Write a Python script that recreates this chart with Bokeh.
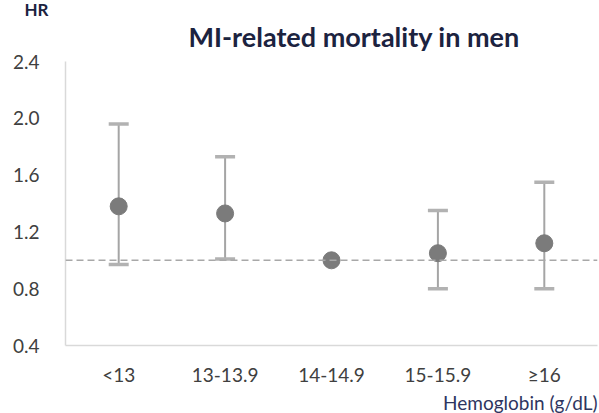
from bokeh.plotting import figure
from bokeh.models import (Range1d, FactorRange, FixedTicker, Title, Span,
                          ColumnDataSource, CustomJSTickFormatter)
from bokeh.embed import file_html
from bokeh.resources import INLINE

# Hazard ratios of MI-related mortality in men by hemoglobin category
categories = ["<13", "13-13.9", "14-14.9", "15-15.9", "≥16"]
hr = [1.38, 1.33, 1.00, 1.05, 1.12]
ci_low = [0.97, 1.01, 1.00, 0.80, 0.80]
ci_high = [1.96, 1.73, 1.00, 1.35, 1.55]
y_ticks = [0.4, 0.8, 1.2, 1.6, 2.0, 2.4]

FONT = "Lato"
GREY_BAR = "#a5a5a5"
GREY_DOT = "#7b7b7b"

p = figure(width=599, height=413, output_backend="svg", toolbar_location=None,
           x_range=FactorRange(*categories, range_padding=0),
           y_range=Range1d(0.4, 2.4),
           min_border_left=65, min_border_right=2,
           min_border_top=61, min_border_bottom=65)
p.outline_line_color = None
p.xgrid.grid_line_color = None
p.ygrid.grid_line_color = None
p.background_fill_color = "white"
p.border_fill_color = "white"

# axes
for ax in (p.xaxis[0], p.yaxis[0]):
    ax.axis_line_color = "#d9d9d9"
    ax.axis_line_width = 1.5
    ax.major_tick_line_color = None
    ax.minor_tick_line_color = None
    ax.major_label_text_font = FONT
    ax.major_label_text_font_size = "19px"
    ax.major_label_text_color = "#404040"

p.yaxis.ticker = FixedTicker(ticks=y_ticks)
p.yaxis.formatter = CustomJSTickFormatter(code="return tick.toFixed(1);")
p.yaxis.major_label_standoff = 20
p.xaxis.major_label_standoff = 11

# reference line at HR = 1
p.add_layout(Span(location=1.0, dimension="width", line_color="#a8a8a8",
                  line_width=1.5, line_dash="7 4"))

# confidence intervals (the reference category has none)
keep = [h > l for l, h in zip(ci_low, ci_high)]
ci_src = ColumnDataSource(dict(
    cat=[c for c, k in zip(categories, keep) if k],
    lo=[v for v, k in zip(ci_low, keep) if k],
    hi=[v for v, k in zip(ci_high, keep) if k]))
p.segment(x0="cat", y0="lo", x1="cat", y1="hi", source=ci_src,
          line_color=GREY_BAR, line_width=2)
for col in ("lo", "hi"):
    p.rect(x="cat", y=col, width=20, height=3.5, width_units="screen",
           height_units="screen", source=ci_src, fill_color="#b2b2b2",
           line_color=None)

# point estimates
src = ColumnDataSource(dict(cat=categories, hr=hr))
p.scatter(x="cat", y="hr", size=17, source=src, fill_color=GREY_DOT,
          line_color=GREY_DOT)

# "HR" caption sits outermost (pulled down beside the title), the chart
# title just above the frame
p.title.text = "HR"
p.title.align = "left"
p.title.offset = -41
p.title.text_font = FONT
p.title.text_font_style = "bold"
p.title.text_font_size = "17px"
p.title.text_color = "#1c2340"
p.title.standoff = -20

p.add_layout(Title(text="MI-related mortality in men", align="left",
                   offset=123, text_font=FONT, text_font_style="bold",
                   text_font_size="27px", text_color="#1c2340",
                   standoff=17), "above")
p.add_layout(Title(text="Hemoglobin (g/dL)", align="right", offset=0,
                   text_font=FONT, text_font_style="normal",
                   text_font_size="19px", text_color="#2e3560",
                   standoff=0), "below")

open("out.html", "w").write(file_html(p, INLINE))
